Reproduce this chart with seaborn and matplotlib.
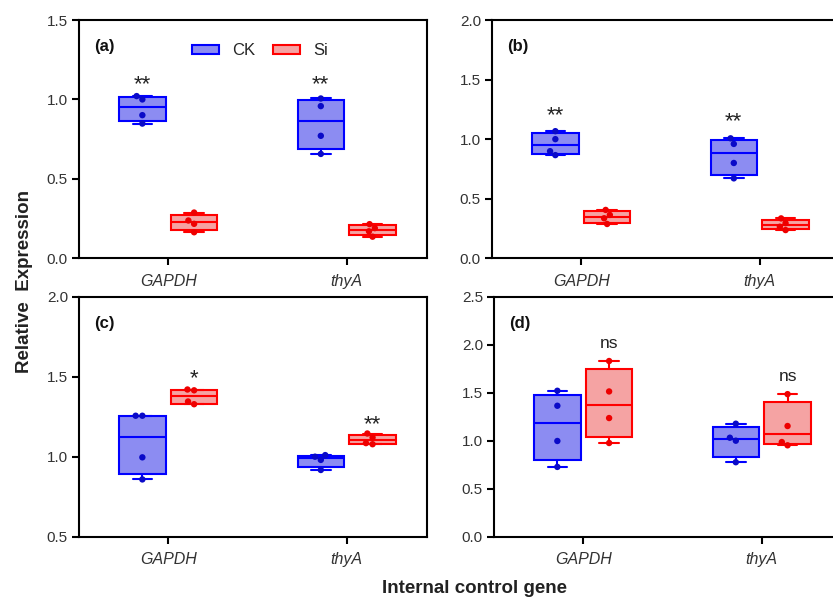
import numpy as np
import pandas as pd
import matplotlib
matplotlib.use('Agg')
import matplotlib.pyplot as plt
from matplotlib.patches import Patch
import seaborn as sns

genes = ['GAPDH', 'thyA']
groups = ['CK', 'Si']
panel_labels = ['(a)', '(b)', '(c)', '(d)']

# four replicates per box, one list per panel (a)-(d)
ck_gapdh = [[0.848, 0.901, 1.000, 1.021],
            [0.866, 0.899, 1.000, 1.067],
            [0.858, 0.996, 1.256, 1.256],
            [0.727, 0.997, 1.364, 1.520]]
ck_thya = [[0.657, 0.771, 0.958, 1.006],
           [0.671, 0.800, 0.960, 1.007],
           [0.917, 0.980, 1.000, 1.010],
           [0.776, 1.000, 1.031, 1.177]]
si_gapdh = [[0.164, 0.217, 0.238, 0.288],
            [0.288, 0.336, 0.364, 0.406],
            [1.328, 1.345, 1.415, 1.420],
            [0.976, 1.236, 1.513, 1.830]]
si_thya = [[0.136, 0.170, 0.190, 0.215],
           [0.237, 0.265, 0.295, 0.335],
           [1.078, 1.085, 1.120, 1.145],
           [0.952, 0.986, 1.153, 1.485]]

# significance marks per panel and gene
sig_text = [['**', '**'], ['**', '**'], ['*', '**'], ['ns', 'ns']]
sig_group = ['CK', 'CK', 'Si', 'Si']
sig_y = [[1.093, 1.09], [1.196, 1.149], [1.486, 1.2], [2.01, 1.67]]

y_limits = [(0, 1.5), (0, 2.0), (0.5, 2.0), (0, 2.5)]

fill_colors = {'CK': '#8c8cf2', 'Si': '#f5a3a3'}
edge_colors = {'CK': '#0000ff', 'Si': '#ff0000'}
dot_colors = {'CK': '#0a0ac8', 'Si': '#ee0000'}

offset = 0.145
box_w = 0.261

sns.set_theme(style='ticks')
plt.rcParams['font.family'] = ['Liberation Sans', 'DejaVu Sans']
plt.rcParams['axes.linewidth'] = 1.5

fig = plt.figure(figsize=(8.33, 6.01), dpi=100)
W, H = 833, 601
boxes = [(79, 20, 258.3), (492, 20, 258.3), (79, 296.7, 536.7), (494, 296.7, 536.7)]

for p in range(4):
    left, top, bottom = boxes[p]
    ax = fig.add_axes([left / W, 1 - bottom / H, 348 / W, (bottom - top) / H])

    rows = []
    series = {('CK', 0): ck_gapdh[p], ('CK', 1): ck_thya[p],
              ('Si', 0): si_gapdh[p], ('Si', 1): si_thya[p]}
    for (g, gi), vals in series.items():
        pos = gi + (-offset if g == 'CK' else offset)
        for v in vals:
            rows.append({'group': g, 'gene': genes[gi], 'pos': pos, 'value': v})
    df = pd.DataFrame(rows)

    for g in groups:
        sub = df[df.group == g]
        stats = []
        positions = []
        for pos, d in sub.groupby('pos'):
            v = d['value'].to_numpy()
            q1, med, q3 = np.percentile(v, [25, 50, 75], method='weibull')
            stats.append(dict(med=med, q1=q1, q3=q3, whislo=v.min(), whishi=v.max(), fliers=[]))
            positions.append(pos)
        lp = dict(color=edge_colors[g], linewidth=1.5)
        ax.bxp(stats, positions=positions, widths=box_w, capwidths=0.11,
               patch_artist=True, showfliers=False, manage_ticks=False,
               boxprops=dict(facecolor=fill_colors[g], edgecolor=edge_colors[g], linewidth=1.5),
               medianprops=lp, whiskerprops=lp, capprops=lp)

    sns.swarmplot(data=df, x='pos', y='value', hue='group', native_scale=True, orient='x',
                  palette=dot_colors, size=4.6, linewidth=0, legend=False, ax=ax, zorder=3)

    for gi in range(2):
        xp = gi + (-offset if sig_group[p] == 'CK' else offset)
        ax.text(xp, sig_y[p][gi], sig_text[p][gi], ha='center', va='center',
                fontsize=12.5 if sig_text[p][gi] == 'ns' else 16, color='#222222')

    ax.set_xlim(-0.5, 1.45)
    ax.set_ylim(*y_limits[p])
    ax.set_yticks(np.arange(y_limits[p][0], y_limits[p][1] + 0.01, 0.5))
    ax.yaxis.set_major_formatter(matplotlib.ticker.FormatStrFormatter('%.1f'))
    ax.set_xticks([0, 1])
    ax.set_xticklabels(genes, fontstyle='italic')
    ax.set_xlabel('')
    ax.set_ylabel('')
    ax.tick_params(axis='both', direction='out', length=5, width=1.5, color='black',
                   labelsize=11, labelcolor='#333333', pad=3)
    ax.tick_params(axis='x', pad=6, labelsize=11.5)
    for s in ax.spines.values():
        s.set_color('black')
        s.set_linewidth(1.5)
    ax.text(0.043, 0.89, panel_labels[p], transform=ax.transAxes, fontsize=12,
            fontweight='bold', ha='left', va='center', color='#111111')

    if p == 0:
        handles = [Patch(facecolor=fill_colors[g], edgecolor=edge_colors[g], linewidth=1.5, label=g)
                   for g in groups]
        ax.legend(handles=handles, loc='center', bbox_to_anchor=(0.52, 0.87), ncol=2,
                  frameon=False, fontsize=12, handlelength=1.6, handleheight=0.45,
                  columnspacing=1.1, handletextpad=0.8)

fig.text(0.029, 0.532, 'Relative  Expression', rotation=90, ha='center', va='center',
         fontsize=13.5, fontweight='bold', color='#222222')
fig.text(0.5696, 0.0216, 'Internal control gene', ha='center', va='center',
         fontsize=13.5, fontweight='bold', color='#222222')

fig.savefig('out.png', dpi=100)
